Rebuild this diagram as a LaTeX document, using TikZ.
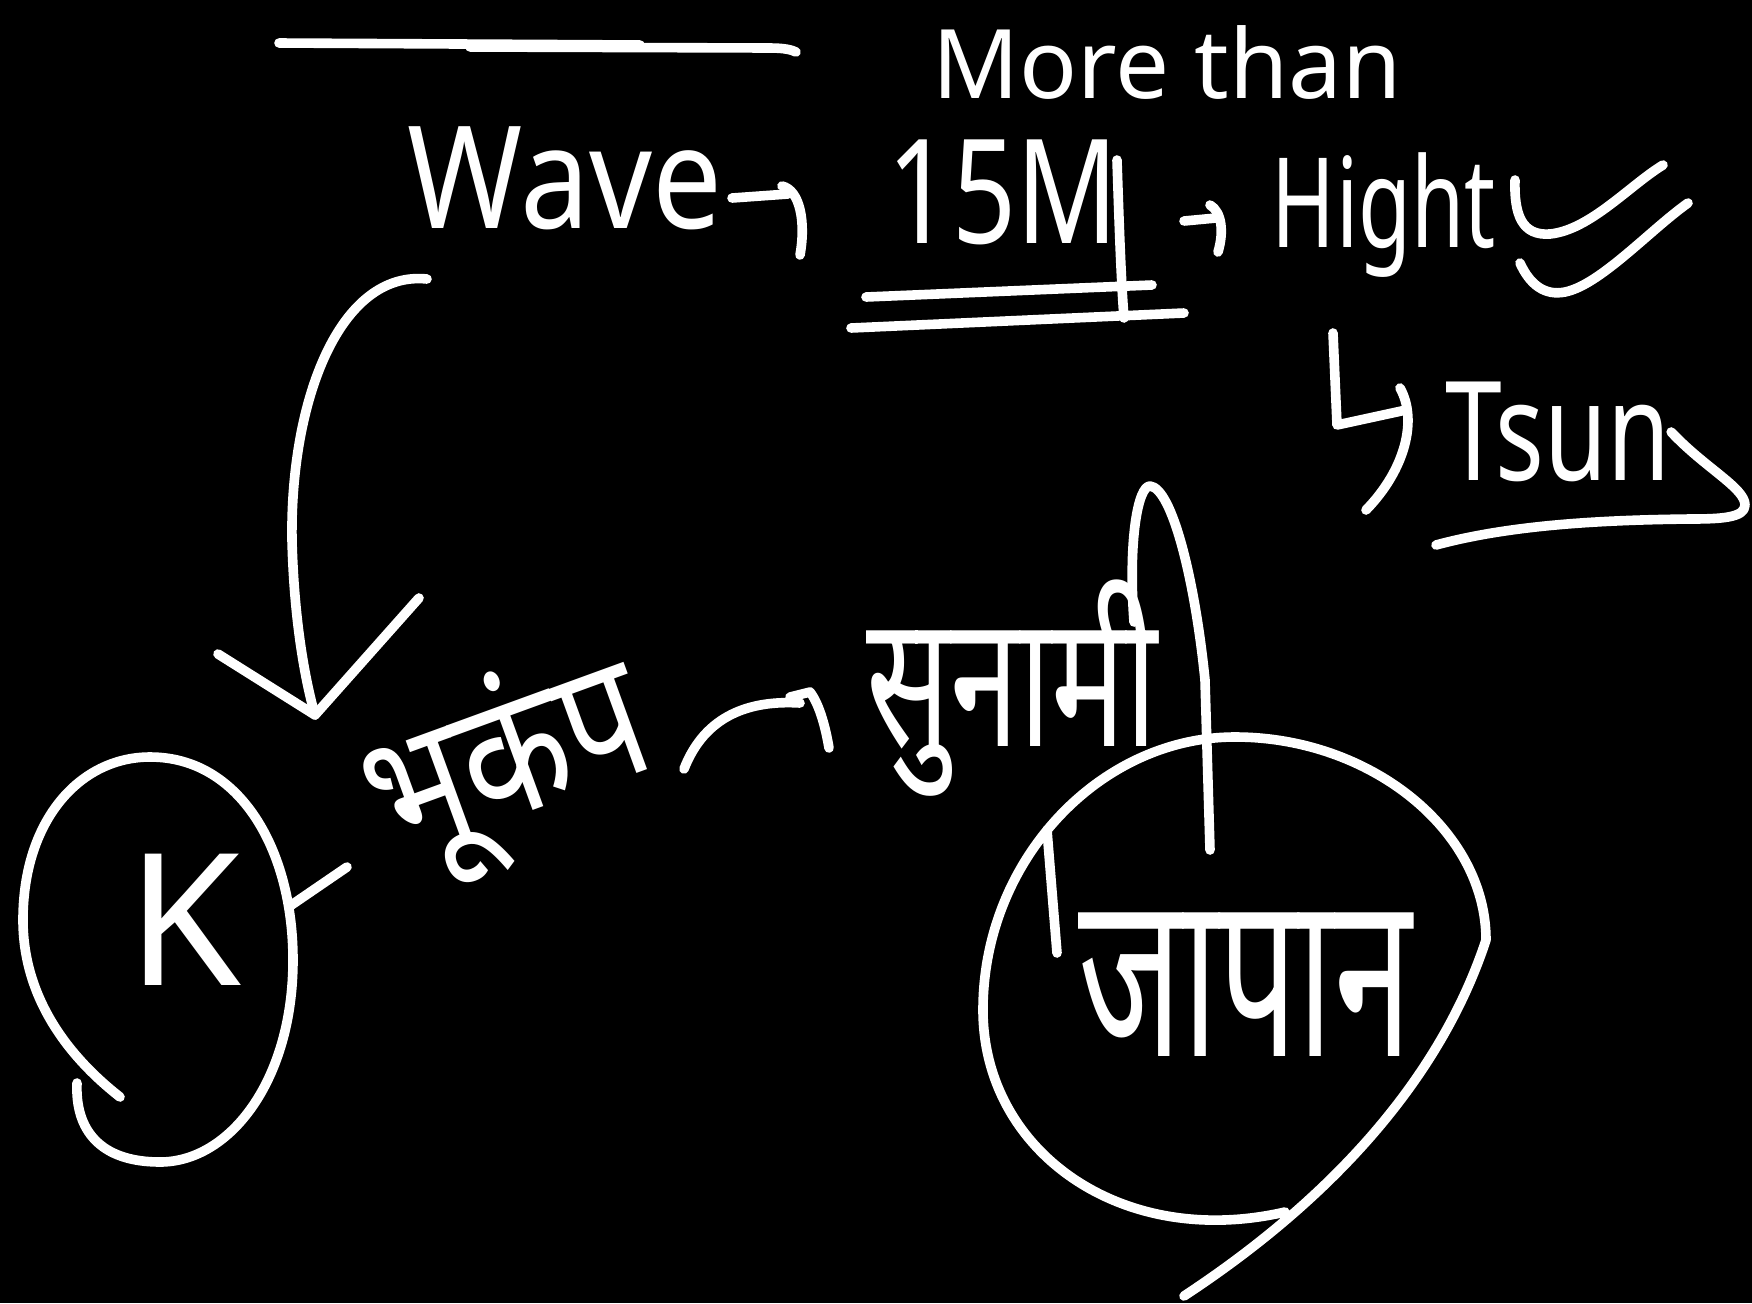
\documentclass[tikz,border=0pt]{standalone}
\usepackage{fontspec}
\setmainfont{Noto Sans}
\newfontfamily\deva[Script=Devanagari]{Noto Sans}
\begin{document}
\begin{tikzpicture}[x=0.5pt,y=-0.5pt,
  chalk/.style={draw=white,line width=4.8pt,line cap=round,line join=round},
  txt/.style={text=white,inner sep=0pt},
  latin/.style={txt,font=\fontsize{#1}{#1}\selectfont},
  hindi/.style={txt,font=\deva\fontsize{#1}{#1}\selectfont}]
\fill[black] (0,0) rectangle (1752,1303);
\useasboundingbox (0,0) rectangle (1752,1303);

% texts
\node[latin=48] (more) at (1167,62) {More than};
\node[latin=62] (wave) at (565,178) {\scalebox{1}[1.15]{Wave}};
\node[latin=66] (fifteen) at (1003,192) {\scalebox{0.85}[1.1]{15M}};
\node[latin=48] (hight) at (1384,215) {\scalebox{0.9}[1.3]{Hight}};
\node[latin=60] (tsun) at (1558,432) {\scalebox{0.85}[1.15]{Tsun}};
\node[latin=92] (K) at (184,920) {K};
\node[hindi=70,rotate=20] (bhukamp) at (508,768) {\scalebox{1}[1.25]{भूकंप}};
\node[hindi=62] (sunami) at (1012,688) {\scalebox{1}[1.5]{सुनामी}};
\node[hindi=70] (japan) at (1245,985) {\scalebox{1}[1.65]{जापान}};

% top line
\draw[chalk] (279,43) -- (640,45);
\draw[chalk] (470,47) -- (770,48) .. controls (785,48) and (792,50) .. (796,52);

% Wave -> 15M
\draw[chalk] (732,198) -- (788,194);
\draw[chalk] (782,186) .. controls (800,190) and (806,222) .. (800,255);

% 15M underline and extended stroke
\draw[chalk] (1117,160) .. controls (1119,220) and (1121,280) .. (1124,318);
\draw[chalk] (866,297) -- (1152,285);
\draw[chalk] (851,328) -- (1184,313);

% 15M -> Hight
\draw[chalk] (1184,221) -- (1216,218);
\draw[chalk] (1210,205) .. controls (1222,212) and (1224,232) .. (1218,252);

% checks
\draw[chalk] (1515,180) .. controls (1514,215) and (1522,236) .. (1550,234)
  .. controls (1590,230) and (1630,185) .. (1663,165);
\draw[chalk] (1520,263) .. controls (1530,285) and (1545,296) .. (1565,292)
  .. controls (1600,285) and (1650,230) .. (1688,203);

% Hight -> Tsun (hooked)
\draw[chalk] (1333,333) -- (1337,425) -- (1406,410);
\draw[chalk] (1400,388) .. controls (1418,420) and (1405,470) .. (1366,510);

% Tsun flourish and underline
\draw[chalk] (tsun.east) .. controls (1705,468) and (1745,488) .. (1745,505)
  .. controls (1745,518) and (1720,519) .. (1690,519)
  .. controls (1600,520) and (1510,525) .. (1436,545);

% K circle
\draw[chalk] (120,1097) .. controls (60,1050) and (23,990) .. (23,920)
  .. controls (23,820) and (80,757) .. (150,757)
  .. controls (240,757) and (293,850) .. (293,960)
  .. controls (293,1080) and (230,1162) .. (160,1162)
  .. controls (100,1162) and (75,1130) .. (77,1083);

% K -> bhukamp
\draw[chalk] (290,906) -- (347,867);

% Wave -> bhukamp curved arrow
\coordinate (w1) at (427,279);
\coordinate (tip) at (315,715);
\draw[chalk] (w1) .. controls (340,270) and (290,400) .. (292,540)
  .. controls (294,620) and (305,680) .. (tip);
\draw[chalk] (218,654) -- (tip) -- (419,598);

% bhukamp -> sunami
\draw[chalk] (684,769) .. controls (705,715) and (750,700) .. (800,703);
\draw[chalk] (790,697) -- (810,692) .. controls (820,705) and (826,730) .. (829,748);

% sunami -> japan (long matra stroke)
\draw[chalk] (1134,622) .. controls (1128,540) and (1138,486) .. (1150,486)
  .. controls (1172,488) and (1195,580) .. (1205,680) -- (1210,850);

% japan circle
\draw[chalk] (1285,1212) .. controls (1120,1250) and (983,1150) .. (983,1010)
  .. controls (983,860) and (1100,737) .. (1235,737)
  .. controls (1370,737) and (1486,830) .. (1486,940)
  .. controls (1440,1080) and (1330,1200) .. (1184,1296);

% stray tick
\draw[chalk] (1047,830) -- (1057,953);
\end{tikzpicture}
\end{document}
